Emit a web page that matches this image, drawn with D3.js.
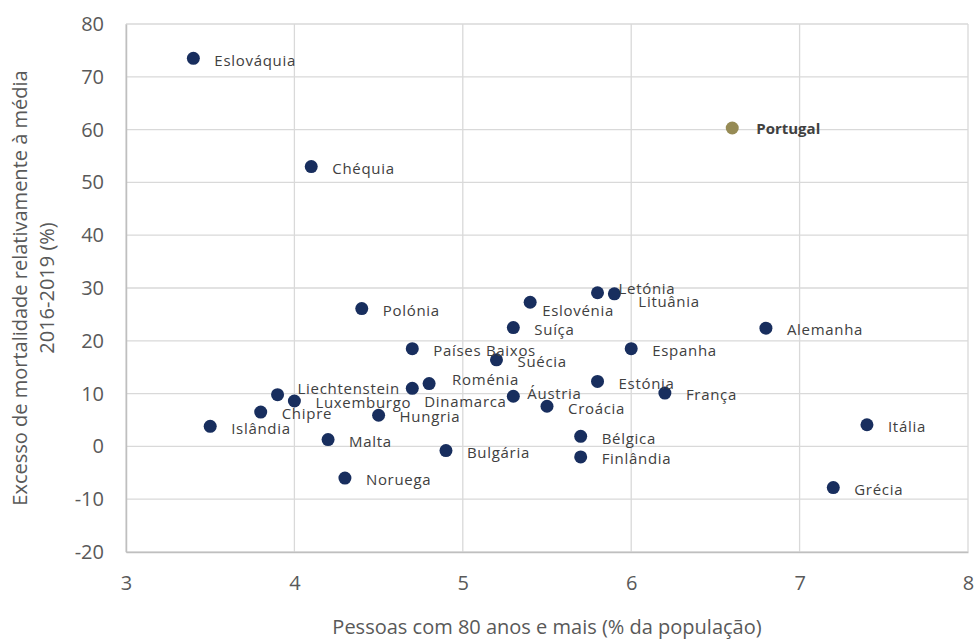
<!DOCTYPE html>
<html>
<head>
<meta charset="utf-8">
<script src="https://cdn.jsdelivr.net/npm/d3@7"></script>
<style>
  body { margin: 0; background: #fff; }
  svg { font-family: "Open Sans", "Noto Sans", sans-serif; }
</style>
</head>
<body>
<div id="chart"></div>
<script>
// excess mortality vs share of people aged 80+
const countries = ["Eslováquia", "Chéquia", "Portugal", "Polónia", "Eslovénia", "Letónia", "Lituânia",
  "Suíça", "Alemanha", "Países Baixos", "Espanha", "Suécia", "Roménia", "Liechtenstein", "Dinamarca",
  "Estónia", "Áustria", "França", "Luxemburgo", "Croácia", "Chipre", "Hungria", "Itália", "Islândia",
  "Bélgica", "Malta", "Bulgária", "Finlândia", "Noruega", "Grécia"];
const pop80 = [3.4, 4.1, 6.6, 4.4, 5.4, 5.8, 5.9,
  5.3, 6.8, 4.7, 6.0, 5.2, 4.8, 3.9, 4.7,
  5.8, 5.3, 6.2, 4.0, 5.5, 3.8, 4.5, 7.4, 3.5,
  5.7, 4.2, 4.9, 5.7, 4.3, 7.2];
const excess = [73.5, 53.0, 60.3, 26.1, 27.3, 29.1, 28.9,
  22.5, 22.4, 18.5, 18.5, 16.4, 11.9, 9.8, 11.0,
  12.3, 9.5, 10.1, 8.6, 7.6, 6.5, 5.9, 4.1, 3.8,
  1.9, 1.3, -0.8, -2.0, -6.0, -7.8];
const highlight = "Portugal";
const xTicks = [3, 4, 5, 6, 7, 8];
const yTicks = [-20, -10, 0, 10, 20, 30, 40, 50, 60, 70, 80];

// label nudges (px) where the default placement collides
const labelNudge = {
  "Eslovénia": [12, 8], "Lituânia": [24, 8], "Letónia": [21, -4], "Roménia": [23, -4],
  "Liechtenstein": [20, -6], "Dinamarca": [12, 13], "Áustria": [14, -2], "Portugal": [24, 1]
};

const width = 976, height = 642;
const margin = {top: 24, right: 8, bottom: 90, left: 126};

const svg = d3.select("#chart").append("svg")
  .attr("width", width).attr("height", height);

const x = d3.scaleLinear().domain([3, 8]).range([margin.left, width - margin.right]);
const y = d3.scaleLinear().domain([-20, 80]).range([height - margin.bottom, margin.top]);

// gridlines
svg.append("g").selectAll("line").data(xTicks).join("line")
  .attr("x1", d => x(d)).attr("x2", d => x(d))
  .attr("y1", y(80)).attr("y2", y(-20))
  .attr("stroke", "#d9d9d9").attr("stroke-width", 1.3);
svg.append("g").selectAll("line").data(yTicks).join("line")
  .attr("x1", x(3)).attr("x2", x(8))
  .attr("y1", d => y(d)).attr("y2", d => y(d))
  .attr("stroke", "#d9d9d9").attr("stroke-width", 1.3);

// axes
const xAxis = svg.append("g")
  .attr("transform", `translate(0,${y(-20)})`)
  .call(d3.axisBottom(x).tickValues(xTicks).tickSize(0).tickPadding(24).tickFormat(d => String(d)));
const yAxis = svg.append("g")
  .attr("transform", `translate(${x(3)},0)`)
  .call(d3.axisLeft(y).tickValues(yTicks).tickSize(0).tickPadding(22).tickFormat(d => String(d)));
[xAxis, yAxis].forEach(a => {
  a.select(".domain").attr("stroke", "#bfbfbf").attr("stroke-width", 1.5);
  a.selectAll("text").attr("fill", "#595959").style("font-size", "20px")
    .style("font-family", "'Open Sans', sans-serif");
});

// axis titles
svg.append("text")
  .attr("x", (x(3) + x(8)) / 2).attr("y", 634)
  .attr("text-anchor", "middle").attr("fill", "#595959")
  .style("font-size", "20px")
  .text("Pessoas com 80 anos e mais (% da população)");
const yTitle = svg.append("text")
  .attr("transform", `translate(27,${(y(80) + y(-20)) / 2}) rotate(-90)`)
  .attr("text-anchor", "middle").attr("fill", "#595959")
  .style("font-size", "20px");
yTitle.append("tspan").attr("x", 0).attr("dy", 0).text("Excesso de mortalidade relativamente à média");
yTitle.append("tspan").attr("x", 0).attr("dy", 27).text("2016-2019  (%)");

const pts = countries.map((c, i) => ({name: c, px: pop80[i], ex: excess[i]}));

svg.append("g").selectAll("circle").data(pts).join("circle")
  .attr("cx", d => x(d.px)).attr("cy", d => y(d.ex)).attr("r", 6.5)
  .attr("fill", d => d.name === highlight ? "#968b55" : "#182e5e");

svg.append("g").selectAll("text").data(pts).join("text")
  .attr("x", d => x(d.px) + (labelNudge[d.name] ? labelNudge[d.name][0] : 21))
  .attr("y", d => y(d.ex) + (labelNudge[d.name] ? labelNudge[d.name][1] : 2))
  .attr("dy", "0.35em")
  .attr("fill", "#404040")
  .style("font-size", "15px")
  .style("font-weight", d => d.name === highlight ? "bold" : "normal")
  .style("letter-spacing", d => d.name === highlight ? "0px" : "0.7px")
  .text(d => d.name);
</script>
</body>
</html>
